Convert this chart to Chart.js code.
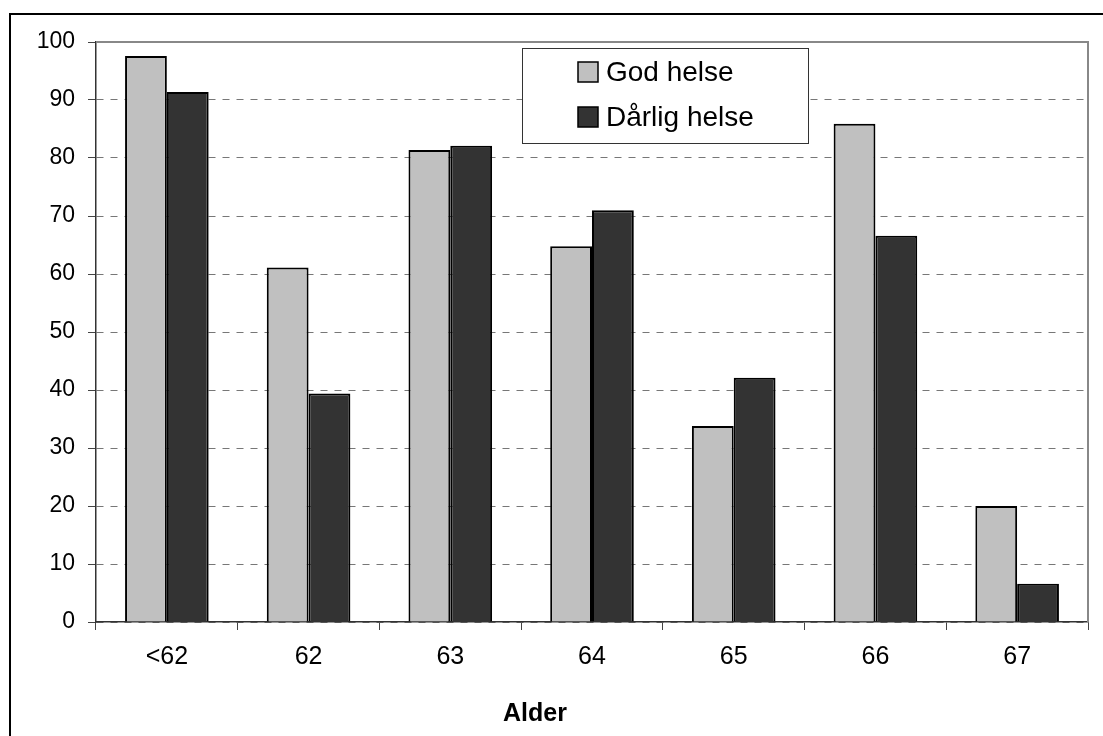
<!DOCTYPE html>
<html lang="no">
<head>
  <meta charset="UTF-8" />
  <title>God helse / Dårlig helse etter alder</title>
  <style>
    body, html {
      margin: 0;
      padding: 0;
      background: #fff;
    }
    #wrap {
      width: 1103px;
      height: 736px;
      position: relative;
    }
  </style>
</head>
<body>
<div id="wrap"><canvas id="chart" width="1103" height="736"></canvas></div>

<script src="https://cdn.jsdelivr.net/npm/chart.js"></script>
<script>
  // data
  const categories = ['<62', '62', '63', '64', '65', '66', '67'];
  const godHelse = [97.6, 61.1, 81.4, 64.8, 33.8, 85.9, 20.0];
  const darligHelse = [91.4, 39.4, 82.1, 71.0, 42.1, 66.6, 6.6];
  const seriesNames = ['God helse', 'Dårlig helse'];
  const seriesColors = ['#c0c0c0', '#333333'];
  const axisTitle = 'Alder';

  const FONT = "'Liberation Sans', Arial, sans-serif";

  // frame, plot outline, legend box and axis title
  const decorations = {
    id: 'decorations',
    beforeDraw(chart) {
      const ctx = chart.ctx;
      ctx.save();
      ctx.strokeStyle = '#000';
      ctx.lineWidth = 2;
      ctx.beginPath();
      ctx.moveTo(10, 736);
      ctx.lineTo(10, 14);
      ctx.lineTo(1103, 14);
      ctx.stroke();
      ctx.restore();
    },
    beforeDatasetsDraw(chart) {
      const a = chart.chartArea;
      const ctx = chart.ctx;
      ctx.save();
      ctx.strokeStyle = '#888';
      ctx.lineWidth = 2;
      ctx.beginPath();
      ctx.moveTo(a.left, a.top);
      ctx.lineTo(a.right, a.top);
      ctx.lineTo(a.right, a.bottom);
      ctx.stroke();
      ctx.restore();
    },
    afterDraw(chart) {
      const ctx = chart.ctx;
      ctx.save();
      // legend
      const bx = 522, by = 48, bw = 286, bh = 95;
      ctx.fillStyle = '#fff';
      ctx.fillRect(bx, by, bw, bh);
      ctx.strokeStyle = '#333';
      ctx.lineWidth = 1;
      ctx.strokeRect(bx + 0.5, by + 0.5, bw, bh);
      ctx.font = '28px ' + FONT;
      ctx.textBaseline = 'middle';
      ctx.textAlign = 'left';
      chart.data.datasets.forEach((ds, i) => {
        const cy = 72 + i * 45;
        ctx.fillStyle = ds.backgroundColor;
        ctx.fillRect(578, cy - 10, 20, 20);
        ctx.lineWidth = 1.5;
        ctx.strokeStyle = '#000';
        ctx.strokeRect(578, cy - 10, 20, 20);
        ctx.fillStyle = '#000';
        ctx.fillText(ds.label, 606, cy + 1);
      });
      // x axis title
      ctx.font = 'bold 25px ' + FONT;
      ctx.textAlign = 'center';
      ctx.fillText(axisTitle, 535, 714);
      ctx.restore();
    }
  };

  new Chart(document.getElementById('chart').getContext('2d'), {
    type: 'bar',
    data: {
      labels: categories,
      datasets: [
        {
          label: seriesNames[0],
          data: godHelse,
          backgroundColor: seriesColors[0],
          borderColor: '#000',
          borderWidth: 2,
          categoryPercentage: 0.59,
          barPercentage: 1.0
        },
        {
          label: seriesNames[1],
          data: darligHelse,
          backgroundColor: seriesColors[1],
          borderColor: '#000',
          borderWidth: 2,
          categoryPercentage: 0.59,
          barPercentage: 1.0
        }
      ]
    },
    options: {
      responsive: false,
      animation: false,
      layout: { padding: { left: 0, top: 42, right: 15, bottom: 0 } },
      plugins: {
        legend: { display: false },
        tooltip: { enabled: false }
      },
      scales: {
        x: {
          grid: {
            offset: true,
            drawOnChartArea: false,
            tickLength: 8,
            tickColor: '#444'
          },
          border: { color: '#333', width: 1.5 },
          ticks: {
            color: '#000',
            font: { family: FONT, size: 25 },
            padding: 12
          },
          afterFit(scale) { scale.height = 114; }
        },
        y: {
          min: 0,
          max: 100,
          ticks: {
            stepSize: 10,
            color: '#000',
            font: { family: FONT, size: 23 },
            padding: 13
          },
          grid: {
            color: '#777',
            tickColor: '#444',
            tickLength: 8,
            tickBorderDash: []
          },
          border: { color: '#333', width: 1.5, dash: [7, 7] },
          afterFit(scale) { scale.width = 96; }
        }
      }
    },
    plugins: [decorations]
  });
</script>
</body>
</html>
